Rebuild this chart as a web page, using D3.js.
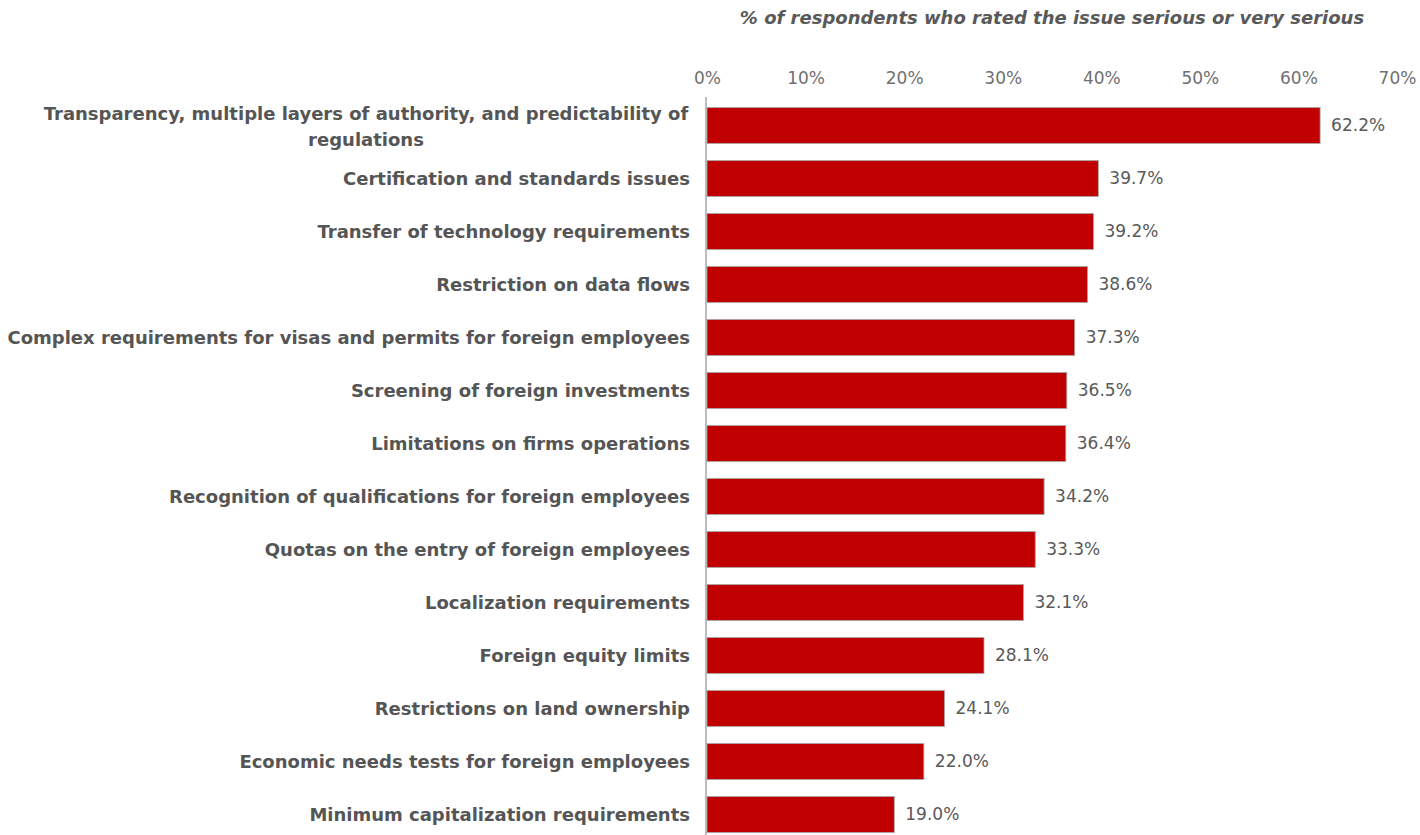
<!DOCTYPE html>
<html><head><meta charset="utf-8">
<script src="https://cdn.jsdelivr.net/npm/d3@7"></script>
<style>
html,body{margin:0;padding:0;background:#fff;}
svg{display:block;}
</style></head>
<body><svg id="chart" width="1420" height="835"></svg>
<script>
const categories = [
  "Transparency, multiple layers of authority, and predictability of regulations",
  "Certification and standards issues",
  "Transfer of technology requirements",
  "Restriction on data flows",
  "Complex requirements for visas and permits for foreign employees",
  "Screening of foreign investments",
  "Limitations on firms operations",
  "Recognition of qualifications for foreign employees",
  "Quotas on the entry of foreign employees",
  "Localization requirements",
  "Foreign equity limits",
  "Restrictions on land ownership",
  "Economic needs tests for foreign employees",
  "Minimum capitalization requirements"
];
const values = [62.2, 39.7, 39.2, 38.6, 37.3, 36.5, 36.4, 34.2, 33.3, 32.1, 28.1, 24.1, 22.0, 19.0];
const tickValues = [0, 10, 20, 30, 40, 50, 60, 70];
const axisTitle = "% of respondents who rated the issue serious or very serious";

const FONT = "DejaVu Sans, Verdana, sans-serif";
const svg = d3.select("#chart");
const x = d3.scaleLinear().domain([0, 70]).range([707, 1397]);
const y = d3.scaleBand().domain(categories).range([99, 841]).paddingInner(0.32).paddingOuter(0.16);

// title
svg.append("text")
  .attr("x", (x(0) + x(70)) / 2).attr("y", 24)
  .attr("text-anchor", "middle")
  .style("font-family", FONT)
  .style("font-size", "18px").style("font-weight", "bold").style("font-style", "italic")
  .attr("fill", "#595959")
  .text(axisTitle);

// top axis
const axis = d3.axisTop(x).tickValues(tickValues).tickFormat(d => d + "%").tickSize(0).tickPadding(0);
const ag = svg.append("g").attr("transform", "translate(0,84)").call(axis);
ag.select(".domain").remove();
ag.selectAll("text")
  .style("font-family", FONT)
  .style("font-size", "17px").attr("fill", "#707070");

// bars
svg.append("g").selectAll("rect").data(values).join("rect")
  .attr("x", x(0))
  .attr("y", (d, i) => y(categories[i]))
  .attr("width", d => x(d) - x(0))
  .attr("height", y.bandwidth())
  .attr("fill", "#C00000")
  .attr("stroke", "#a8a8a8").attr("stroke-width", 0.8);

// vertical axis line
svg.append("line")
  .attr("x1", x(0) - 1).attr("x2", x(0) - 1)
  .attr("y1", 97).attr("y2", 835)
  .attr("stroke", "#a6a6a6").attr("stroke-width", 1.5);

// value labels
svg.append("g").selectAll("text").data(values).join("text")
  .attr("x", d => x(d) + 11)
  .attr("y", (d, i) => y(categories[i]) + y.bandwidth() / 2)
  .attr("dy", "0.35em")
  .style("font-family", FONT)
  .style("font-size", "17px").attr("fill", "#595959")
  .text(d => d.toFixed(1) + "%");

// category labels
const lg = svg.append("g");
categories.forEach((c, i) => {
  const cy = y(c) + y.bandwidth() / 2;
  const t = lg.append("text")
    .attr("text-anchor", "middle")
    .style("font-family", FONT)
    .style("font-size", "18px").style("font-weight", "bold")
    .attr("fill", "#555555");
  if (i === 0) {
    t.append("tspan").attr("x", 366).attr("y", cy - 11.5).attr("dy", "0.35em")
      .text("Transparency, multiple layers of authority, and predictability of");
    t.append("tspan").attr("x", 366).attr("y", cy + 14.5).attr("dy", "0.35em")
      .text("regulations");
  } else {
    t.attr("text-anchor", "end").attr("x", 690).attr("y", cy).attr("dy", "0.35em").text(c);
  }
});
</script></body></html>
